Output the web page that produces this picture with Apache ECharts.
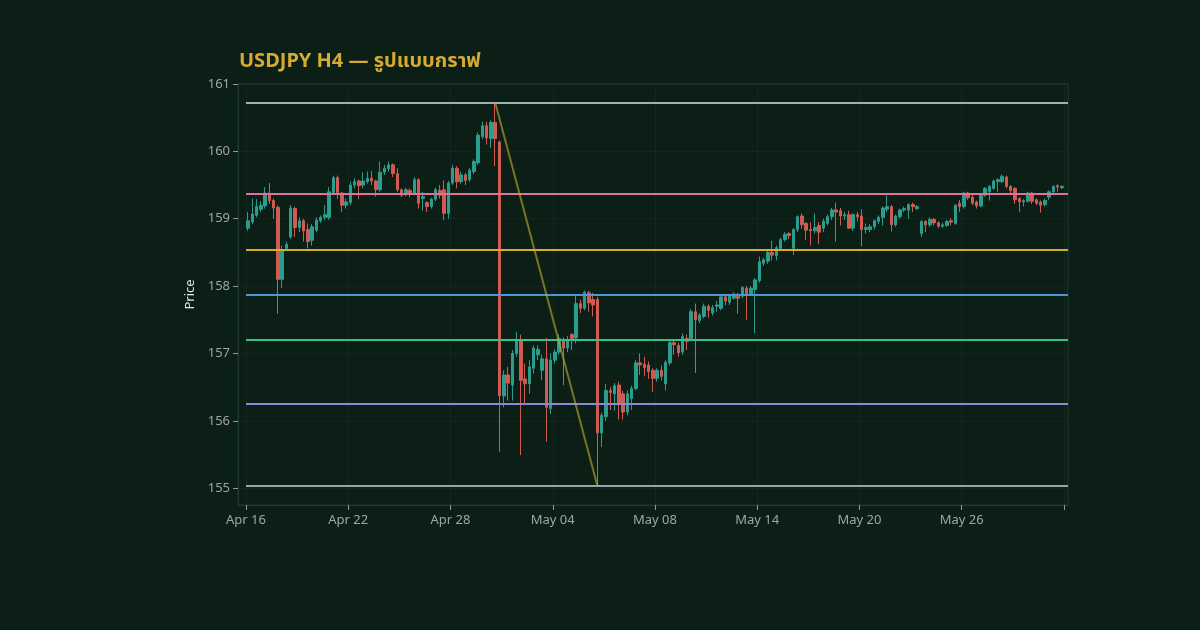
<!DOCTYPE html>
<html>
<head>
<meta charset="utf-8">
<title>USDJPY H4</title>
<script src="https://cdn.jsdelivr.net/npm/echarts@6/dist/echarts.min.js"></script>
<style>
  html, body { margin: 0; padding: 0; background: #0b1f16; }
  #chart { width: 1200px; height: 630px; }
</style>
</head>
<body>
<div id="chart"></div>
<script>
// trading days (6 x H4 candles per day)
const days = ['Apr 16','Apr 17','Apr 20','Apr 21','Apr 22','Apr 23','Apr 24','Apr 27','Apr 28','Apr 29',
  'Apr 30','May 01','May 04','May 05','May 06','May 07','May 08','May 11','May 12','May 13',
  'May 14','May 15','May 18','May 19','May 20','May 21','May 22','May 25','May 26','May 27',
  'May 28','May 29'];

// [open, close, low, high]
const week1 = [
  [158.86,158.97,158.82,159.10],[158.95,159.07,158.92,159.30],[159.05,159.18,159.02,159.29],
  [159.14,159.20,159.10,159.26],[159.19,159.38,159.15,159.47],[159.38,159.27,159.22,159.53],
  [159.27,159.16,159.00,159.30],[159.17,158.10,157.59,159.20],[158.10,158.53,157.97,158.60],
  [158.56,158.62,158.52,158.66],[158.73,159.16,158.70,159.20],[159.15,158.87,158.73,159.18]
];
const week2 = [
  [158.87,158.97,158.80,159.02],[158.97,158.82,158.66,159.00],[158.84,158.66,158.56,158.93],
  [158.68,158.88,158.60,158.92],[158.83,158.98,158.80,159.02],[158.97,159.02,158.94,159.05],
  [159.02,159.06,158.98,159.20],[159.02,159.40,158.98,159.47],[159.39,159.61,159.35,159.64],
  [159.61,159.39,159.29,159.64],[159.38,159.20,159.10,159.40],[159.20,159.25,159.15,159.30],
  [159.24,159.50,159.20,159.55],[159.50,159.55,159.45,159.60],[159.56,159.49,159.29,159.58],
  [159.50,159.56,159.45,159.69],[159.55,159.60,159.52,159.70],[159.60,159.56,159.50,159.71],
  [159.56,159.43,159.33,159.58],[159.43,159.69,159.40,159.85],[159.69,159.75,159.65,159.80],
  [159.74,159.80,159.70,159.85],[159.80,159.67,159.62,159.82],[159.67,159.43,159.40,159.75],
  [159.43,159.35,159.32,159.45],[159.36,159.43,159.33,159.46],[159.42,159.36,159.32,159.45],
  [159.38,159.58,159.35,159.62],[159.58,159.23,159.15,159.60],[159.30,159.33,159.12,159.40]
];
const week3 = [
  [159.24,159.18,159.10,159.26],[159.18,159.29,159.15,159.31],[159.29,159.43,159.26,159.46],
  [159.42,159.35,159.30,159.50],[159.43,159.08,158.98,159.57],[159.08,159.53,159.00,159.56],
  [159.53,159.75,159.50,159.80],[159.75,159.55,159.45,159.78],[159.55,159.65,159.52,159.70],
  [159.65,159.57,159.50,159.68],[159.58,159.72,159.55,159.75],[159.70,159.85,159.66,159.88],
  [159.83,160.24,159.80,160.28],[160.22,160.38,160.18,160.44],[160.38,160.20,160.10,160.44],
  [160.19,160.43,160.05,160.46],[160.43,160.19,159.78,160.72],[160.14,156.37,155.54,160.16],
  [156.37,156.68,156.20,156.75],[156.68,156.56,156.30,156.80],[156.53,157.00,156.30,157.05],
  [157.00,157.20,156.95,157.32],[157.20,156.60,155.49,157.28],[156.62,156.55,156.25,156.85],
  [156.55,156.80,156.40,156.90],[156.78,157.08,156.70,157.12],[156.98,157.06,156.90,157.12],
  [156.75,156.92,156.60,156.98],[156.92,156.20,155.69,157.23],[156.18,156.90,156.10,157.00]
];
const week4 = [
  [156.90,157.02,156.85,157.06],[157.02,157.22,156.98,157.28],[157.20,157.08,156.53,157.24],
  [157.08,157.20,157.02,157.26],[157.28,157.22,157.05,157.30],[157.23,157.74,157.15,157.88],
  [157.74,157.67,157.60,157.80],[157.67,157.91,157.64,157.93],[157.90,157.75,157.62,157.93],
  [157.80,157.72,157.55,157.90],[157.80,155.82,155.03,157.84],[155.82,156.08,155.61,156.12],
  [156.06,156.45,156.00,156.55],[156.45,156.42,156.16,156.50],[156.40,156.52,156.15,156.56],
  [156.53,156.26,156.02,156.58],[156.40,156.13,156.02,156.45],[156.13,156.40,156.08,156.45],
  [156.33,156.48,156.16,156.52],[156.48,156.86,156.45,156.90],[156.86,156.83,156.68,157.00],
  [156.84,156.79,156.66,156.95],[156.83,156.73,156.62,156.88],[156.75,156.63,156.43,156.78],
  [156.63,156.75,156.58,156.78],[156.75,156.66,156.60,156.82],[156.55,156.87,156.45,156.90],
  [156.86,157.16,156.82,157.20],[157.16,157.13,156.98,157.20],[157.12,157.01,156.95,157.16]
];
const week5 = [
  [157.02,157.25,156.98,157.30],[157.22,157.18,157.05,157.28],[157.22,157.62,157.18,157.66],
  [157.62,157.50,156.71,157.74],[157.49,157.57,157.45,157.60],[157.55,157.70,157.52,157.74],
  [157.70,157.64,157.53,157.73],[157.60,157.68,157.56,157.72],[157.70,157.72,157.62,157.78],
  [157.67,157.84,157.64,157.88],[157.84,157.78,157.72,157.88],[157.76,157.85,157.72,157.88],
  [157.82,157.88,157.80,157.91],[157.85,157.82,157.59,157.90],[157.85,157.98,157.82,158.00],
  [157.97,157.89,157.50,158.00],[157.89,157.97,157.85,158.00],[157.95,158.09,157.30,158.12],
  [158.08,158.36,158.05,158.44],[158.34,158.39,158.30,158.42],[158.37,158.50,158.33,158.55],
  [158.50,158.46,158.38,158.67],[158.45,158.57,158.38,158.60],[158.56,158.69,158.52,158.72],
  [158.69,158.77,158.66,158.80],[158.78,158.75,158.70,158.80],[158.56,158.84,158.46,158.86],
  [158.84,159.03,158.80,159.05],[159.04,158.91,158.85,159.08],[158.93,158.83,158.68,158.95]
];
const week6 = [
  [158.84,158.82,158.60,158.95],[158.82,158.87,158.78,159.08],[158.90,158.80,158.62,158.95],
  [158.86,158.96,158.80,159.00],[158.93,159.03,158.90,159.06],[159.03,159.13,158.98,159.16],
  [159.13,159.10,158.66,159.24],[159.12,159.04,158.90,159.16],[159.04,159.06,158.98,159.10],
  [159.06,158.86,158.85,159.12],[158.86,159.06,158.82,159.08],[159.06,159.03,158.96,159.10],
  [159.04,158.84,158.59,159.14],[158.84,158.87,158.78,158.93],[158.84,158.88,158.80,158.92],
  [158.88,158.97,158.84,158.99],[158.96,159.02,158.92,159.05],[159.02,159.16,158.90,159.18],
  [159.14,159.18,159.10,159.35],[159.18,158.91,158.81,159.20],[158.91,159.04,158.88,159.06],
  [159.03,159.13,159.00,159.15],[159.13,159.15,159.10,159.18],[159.13,159.21,159.00,159.23],
  [159.21,159.18,159.10,159.24],[159.15,159.18,159.13,159.20],[158.78,158.96,158.73,158.98],
  [158.96,158.91,158.80,158.98],[158.91,158.99,158.88,159.02],[158.99,158.94,158.90,159.01]
];
const week7 = [
  [158.94,158.89,158.86,158.96],[158.89,158.91,158.86,158.94],[158.90,158.96,158.88,158.98],
  [158.97,158.95,158.90,159.01],[158.93,159.20,158.91,159.22],[159.23,159.18,159.10,159.28],
  [159.18,159.38,159.15,159.40],[159.38,159.31,159.28,159.40],[159.32,159.23,159.20,159.35],
  [159.25,159.19,159.15,159.27],[159.19,159.35,159.17,159.37],[159.35,159.45,159.33,159.47],
  [159.40,159.48,159.27,159.50],[159.45,159.56,159.43,159.58],[159.55,159.58,159.40,159.60],
  [159.55,159.63,159.53,159.66],[159.62,159.48,159.45,159.64],[159.48,159.42,159.38,159.50],
  [159.45,159.28,159.22,159.47],[159.30,159.25,159.10,159.32],[159.25,159.27,159.18,159.29],
  [159.26,159.38,159.24,159.40],[159.38,159.26,159.22,159.40],[159.28,159.23,159.20,159.30],
  [159.25,159.20,159.09,159.27],[159.21,159.27,159.18,159.30],[159.32,159.40,159.28,159.42],
  [159.40,159.48,159.38,159.50],[159.49,159.47,159.40,159.51],[159.46,159.48,159.44,159.50]
];

const fibRatios = [0, 0.236, 0.382, 0.5, 0.618, 0.786, 1];
const fibColors = ['#9fb0b9', '#e0719f', '#d8ac2c', '#4f94d4', '#36c08b', '#8f86d8', '#96a6ae'];

const bars = week1.concat(week2, week3, week4, week5, week6, week7);
const candles = bars.map((b, i) => [i, b[0], b[1], b[2], b[3]]);

// swing high / low of the whole range
let peakIdx = 0, lowIdx = 0;
bars.forEach((b, i) => {
  if (b[3] > bars[peakIdx][3]) peakIdx = i;
  if (b[2] < bars[lowIdx][2]) lowIdx = i;
});
const swingHigh = bars[peakIdx][3];
const swingLow = bars[lowIdx][2];

const xMin = -2.38, xMax = 192.44;
const perLabel = 24;
const tickValues = [];
for (let i = 0; i <= bars.length; i += perLabel) tickValues.push(i - 0.5);
const labelValues = tickValues.slice(0, -1);

const fibLines = fibRatios.map((r, k) => {
  const lvl = swingHigh - r * (swingHigh - swingLow);
  return [
    { coord: [-0.5, lvl], lineStyle: { color: fibColors[k], width: 2, type: 'solid' } },
    { coord: [xMax, lvl] }
  ];
});
fibLines.push([
  { coord: [peakIdx, swingHigh], lineStyle: { color: 'rgba(200,170,50,0.6)', width: 2, type: 'solid' } },
  { coord: [lowIdx, swingLow] }
]);

const font = '"Noto Sans", "Noto Sans Thai", Lato, sans-serif';
const chart = echarts.init(document.getElementById('chart'));
chart.setOption({
  backgroundColor: '#0b1f16',
  animation: false,
  title: {
    text: 'USDJPY H4 — รูปแบบกราฟ',
    left: 234,
    top: 46,
    textStyle: { color: '#d6ab33', fontSize: 20, fontWeight: 'bold', fontFamily: font }
  },
  grid: {
    left: 238, right: 132, top: 84, bottom: 125,
    show: true, borderColor: '#1d3a31', borderWidth: 1
  },
  xAxis: {
    type: 'value',
    min: xMin,
    max: xMax,
    axisLine: { show: true, onZero: false, lineStyle: { color: '#1d3a31' } },
    axisTick: { show: true, customValues: tickValues, length: 5, lineStyle: { color: '#8c9a96' } },
    axisLabel: {
      customValues: labelValues,
      formatter: v => days[Math.round((v + 0.5) / 6)] || '',
      color: '#9aa8a3', fontSize: 13, margin: 9, fontFamily: font
    },
    splitLine: { show: true, lineStyle: { color: 'rgba(255,255,255,0.03)' } }
  },
  yAxis: {
    type: 'value',
    min: 154.75,
    max: 161,
    name: 'Price',
    nameLocation: 'middle',
    nameGap: 38,
    nameTextStyle: { color: '#dfe6e3', fontSize: 13, fontFamily: font },
    axisLine: { show: true, onZero: false, lineStyle: { color: '#1d3a31' } },
    axisTick: { show: true, length: 5, lineStyle: { color: '#8c9a96' } },
    axisLabel: { color: '#9aa8a3', fontSize: 13, margin: 8, fontFamily: font, showMinLabel: false },
    splitLine: { show: true, lineStyle: { color: 'rgba(255,255,255,0.03)' } }
  },
  series: [{
    type: 'candlestick',
    data: candles,
    barWidth: 3,
    itemStyle: {
      color: '#2a9d8c', color0: '#cf5b52',
      borderColor: '#2a9d8c', borderColor0: '#cf5b52', borderWidth: 1
    },
    markLine: {
      silent: true,
      symbol: ['none', 'none'],
      label: { show: false },
      emphasis: { disabled: true },
      data: fibLines
    }
  }]
});
</script>
</body>
</html>
